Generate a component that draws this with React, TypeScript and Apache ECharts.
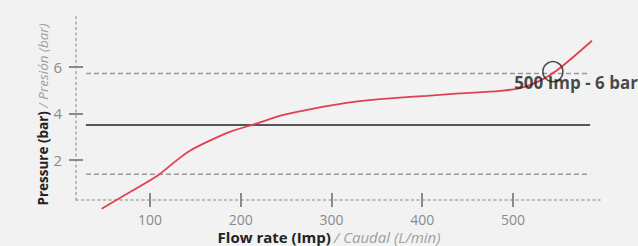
import React, { useEffect, useRef } from "react";
import * as echarts from "echarts";

// Pump curve: flow rate (Imp) vs pressure (bar)
const flowRate = [46.8, 78, 109, 128, 144, 163, 188, 218, 247, 276, 295, 331, 368, 405, 441, 486, 510, 530, 549, 587];
const pressure = [-0.07, 0.64, 1.36, 1.95, 2.4, 2.78, 3.21, 3.57, 3.93, 4.17, 4.31, 4.52, 4.65, 4.75, 4.85, 4.96, 5.1, 5.4, 5.85, 7.1];

const xTicks = [100, 200, 300, 400, 500];
const yTicks = [2, 4, 6];

const upperDashed = 5.7;
const middleSolid = 3.5;
const lowerDashed = 1.4;
const refLineFlow = [29.5, 585];

const operatingPoint = [544, 5.78];
const operatingLabel = "500 Imp - 6 bar";

const xRange = [18.5, 595.9];
const yRange = [0.3, 8.2];

const FONT = "'Open Sans', 'Noto Sans', sans-serif";

export default function App() {
  const ref = useRef<HTMLDivElement>(null);

  useEffect(() => {
    if (!ref.current) return;
    const chart = echarts.init(ref.current, undefined, { renderer: "svg" });

    const axisColor = "#a8a8a8";
    const richX = {
      b: { fontWeight: "bold", color: "#222", fontSize: 15, lineHeight: 17, fontFamily: FONT },
      i: { fontStyle: "italic", color: "#a0a0a0", fontSize: 15, lineHeight: 17, fontFamily: FONT },
    };
    const richY = {
      b: { fontWeight: "bold", color: "#222", fontSize: 13.5, fontFamily: FONT },
      i: { fontStyle: "italic", color: "#a0a0a0", fontSize: 13.5, fontFamily: FONT },
    };

    const baseX = {
      type: "value",
      min: xRange[0],
      max: xRange[1],
      position: "bottom",
      splitLine: { show: false },
    };
    const baseY = {
      type: "value",
      min: yRange[0],
      max: yRange[1],
      position: "left",
      splitLine: { show: false },
    };

    const refLine = (level: number, color: string, type: any) => ({
      type: "line",
      data: refLineFlow.map((f) => [f, level]),
      symbol: "none",
      lineStyle: { color, width: 1.5, type },
      silent: true,
      z: 1,
    });

    const tickStyle = { color: "#8a8a8a", width: 2 };

    chart.setOption({
      animation: false,
      backgroundColor: "#f2f2f2",
      textStyle: { fontFamily: FONT },
      grid: { left: 76, right: 38, top: 15, bottom: 46, outerBoundsMode: "none", containLabel: false },
      xAxis: [
        {
          ...baseX,
          name: "{b|Flow rate (Imp)} {i|/ Caudal (L/min)}",
          nameLocation: "middle",
          nameGap: 28,
          nameMoveOverlap: false,
          nameTextStyle: { rich: richX, padding: [0, 18, 0, 0] },
          axisLine: { show: true, lineStyle: { color: axisColor, type: [2, 3.5], width: 1.5 } },
          axisTick: { show: true, length: 7, customValues: xTicks, lineStyle: tickStyle },
          axisLabel: {
            show: true,
            customValues: xTicks,
            color: "#8a8a8a",
            fontSize: 14,
            lineHeight: 15,
            margin: 12,
            fontFamily: FONT,
          },
        },
        {
          ...baseX,
          axisLine: { show: false },
          axisTick: { show: true, inside: true, length: 7, customValues: xTicks, lineStyle: tickStyle },
          axisLabel: { show: false },
        },
      ],
      yAxis: [
        {
          ...baseY,
          name: "{b|Pressure (bar)} {i|/ Presión (bar)}",
          nameLocation: "middle",
          nameGap: 26,
          nameMoveOverlap: false,
          nameTextStyle: { rich: richY, padding: [0, 14, 0, 0] },
          axisLine: { show: true, lineStyle: { color: axisColor, type: [2, 3.5], width: 1.5 } },
          axisTick: { show: true, length: 7, customValues: yTicks, lineStyle: tickStyle },
          axisLabel: {
            show: true,
            customValues: yTicks,
            color: "#8a8a8a",
            fontSize: 15,
            margin: 14,
            fontFamily: FONT,
          },
        },
        {
          ...baseY,
          axisLine: { show: false },
          axisTick: { show: true, inside: true, length: 7, customValues: yTicks, lineStyle: tickStyle },
          axisLabel: { show: false },
        },
      ],
      series: [
        refLine(upperDashed, "#9a9a9a", [5, 3]),
        refLine(lowerDashed, "#9a9a9a", [5, 3]),
        refLine(middleSolid, "#222", "solid"),
        {
          type: "line",
          data: flowRate.map((f, i) => [f, pressure[i]]),
          smooth: 0.3,
          symbol: "none",
          clip: false,
          lineStyle: { color: "#e0404f", width: 1.8 },
          z: 3,
        },
        {
          type: "scatter",
          data: [operatingPoint],
          symbol: "circle",
          symbolSize: 20,
          clip: false,
          itemStyle: { color: "rgba(0,0,0,0)", borderColor: "#222", borderWidth: 1.5 },
          label: {
            show: true,
            formatter: operatingLabel,
            position: [-28, 13],
            color: "#1a1a1a",
            fontWeight: "bold",
            fontSize: 17,
            fontFamily: FONT,
          },
          z: 4,
        },
      ],
    });

    return () => chart.dispose();
  }, []);

  return (
    <div
      ref={ref}
      style={{ position: "fixed", left: 0, top: 0, width: 638, height: 246 }}
    />
  );
}
